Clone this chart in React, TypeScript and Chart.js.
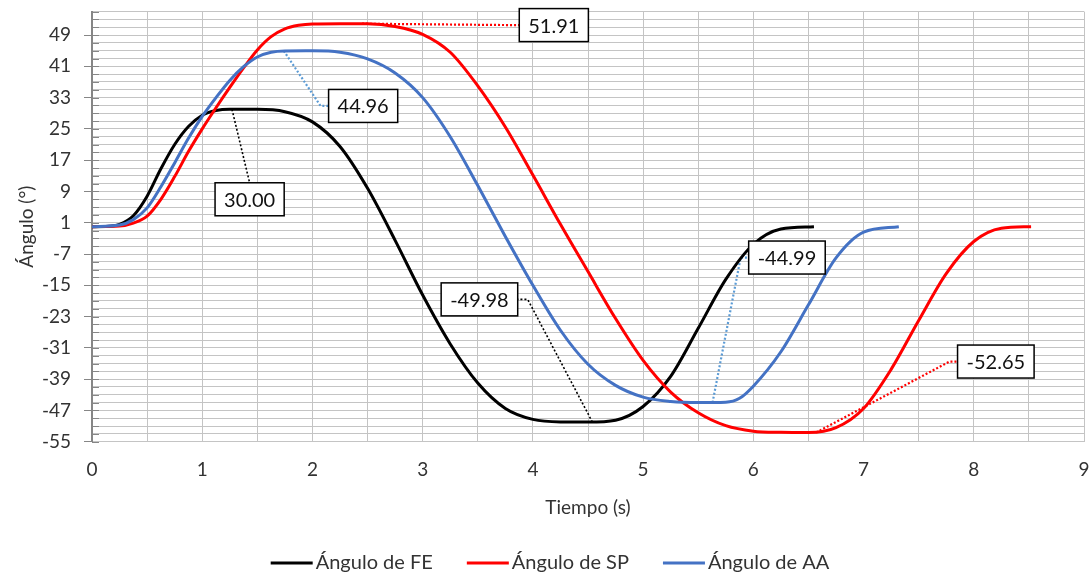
import React, { useEffect, useRef } from "react";
import { Chart, registerables } from "chart.js";

Chart.register(...registerables);

// ---- Data ----
const feTime = [0, 0.125, 0.25, 0.375, 0.5, 0.625, 0.75, 0.875, 1, 1.125, 1.25, 1.5, 1.75, 2, 2.25, 2.5, 2.75, 3, 3.25, 3.5, 3.75, 4, 4.25, 4.5, 4.75, 5, 5.25, 5.5, 5.75, 6, 6.25, 6.55];
const feAngle = [0, 0.05, 0.6, 2.8, 7.8, 14.8, 21, 25.6, 28.5, 29.7, 30, 30, 29.4, 26.8, 20.5, 9.8, -3.5, -17.5, -30, -40, -46.5, -49.3, -49.95, -49.98, -49.5, -46, -38.3, -26, -13.5, -4.5, -0.6, 0];

const spTime = [0, 0.25, 0.375, 0.5, 0.625, 0.75, 0.875, 1, 1.125, 1.25, 1.375, 1.5, 1.625, 1.75, 1.875, 2, 2.25, 2.5, 2.75, 3, 3.25, 3.5, 3.75, 4, 4.25, 4.5, 4.75, 5, 5.25, 5.5, 5.75, 6, 6.25, 6.5, 6.75, 7, 7.25, 7.5, 7.75, 8, 8.25, 8.52];
const spAngle = [0, 0.15, 0.9, 2.7, 7, 12.8, 19.2, 25, 30.4, 35.6, 40.6, 45.2, 48.6, 50.6, 51.5, 51.85, 51.91, 51.9, 51.2, 49.2, 44.6, 36, 25.5, 13.2, 0.6, -11.5, -23.5, -34.2, -42.3, -47.6, -50.9, -52.3, -52.6, -52.65, -51.4, -46.5, -36.5, -24, -12, -3.8, -0.4, 0];

const aaTime = [0, 0.25, 0.375, 0.5, 0.625, 0.75, 0.875, 1, 1.125, 1.25, 1.375, 1.5, 1.625, 1.75, 2, 2.25, 2.5, 2.75, 3, 3.25, 3.5, 3.75, 4, 4.25, 4.5, 4.75, 5, 5.25, 5.5, 5.75, 5.875, 6, 6.25, 6.5, 6.75, 7, 7.32];
const aaAngle = [0, 0.4, 1.8, 4.8, 10.2, 16.3, 22.6, 28.2, 33, 37.4, 40.9, 43.4, 44.6, 44.93, 44.96, 44.6, 42.9, 39.3, 33, 23, 10.5, -2.5, -15, -26.5, -35.2, -40.6, -43.6, -44.7, -44.99, -44.9, -43.9, -40.8, -32, -20, -8, -1.4, 0];

const seriesNames = ["Ángulo de FE", "Ángulo de SP", "Ángulo de AA"];
const seriesColors = ["#000000", "#FF0000", "#4472C4"];
const leaderColors = ["#000000", "#FF0000", "#5B9BD5"];

// callouts (data labels with leader lines)
const calloutSeries = [0, 1, 2, 0, 2, 1];
const calloutTime = [1.27, 2.45, 1.74, 4.54, 5.63, 6.57];
const calloutValue = [30.0, 51.91, 44.96, -49.98, -44.99, -52.65];
const calloutBoxTime = [1.43, 4.19, 2.46, 3.515, 6.305, 8.2];
const calloutBoxValue = [7, 51.55, 30.87, -18.6, -7.9, -34.5];
const calloutSide = ["top", "left", "left", "right", "left", "left"];

// axes
const xMin = 0;
const xMax = 9;
const xGridStep = 0.5;
const xTickLabels = [0, 1, 2, 3, 4, 5, 6, 7, 8, 9];
const yMin = -55;
const yMax = 55;
const yGridStep = 2;
const yTickLabels = [-55, -47, -39, -31, -23, -15, -7, 1, 9, 17, 25, 33, 41, 49];

const FONT = "Lato, 'Open Sans', sans-serif";
const TEXT = "#333333";
const GRID = "#c4c4c4";
const AXIS = "#868686";

function gridValues(min: number, max: number, step: number) {
  const out: { value: number }[] = [];
  for (let v = min; v <= max + 1e-9; v += step) out.push({ value: Math.round(v * 100) / 100 });
  return out;
}

const overlayPlugin = {
  id: "overlay",
  beforeDatasetsDraw(chart: any) {
    const { ctx, scales } = chart;
    const xs = scales.x;
    const ys = scales.y;
    ctx.save();
    ctx.font = `20px ${FONT}`;
    calloutValue.forEach((val, i) => {
      const px = xs.getPixelForValue(calloutTime[i]);
      const py = ys.getPixelForValue(val);
      const cx = xs.getPixelForValue(calloutBoxTime[i]);
      const cy = ys.getPixelForValue(calloutBoxValue[i]);
      const w = ctx.measureText(val.toFixed(2)).width + 18;
      const h = 33;
      ctx.beginPath();
      ctx.strokeStyle = leaderColors[calloutSeries[i]];
      ctx.lineWidth = calloutSeries[i] === 0 ? 1.6 : 2.2;
      ctx.setLineDash([2, 2]);
      ctx.moveTo(px, py);
      const side = calloutSide[i];
      if (side === "left") {
        ctx.lineTo(cx - w / 2 - 8, cy);
        ctx.lineTo(cx - w / 2, cy);
      } else if (side === "right") {
        ctx.lineTo(cx + w / 2 + 10, cy);
        ctx.lineTo(cx + w / 2, cy);
      } else {
        ctx.lineTo(cx, cy - h / 2);
      }
      ctx.stroke();
    });
    ctx.restore();
  },
  afterDatasetsDraw(chart: any) {
    const { ctx, scales } = chart;
    const xs = scales.x;
    const ys = scales.y;
    ctx.save();
    ctx.font = `20px ${FONT}`;
    ctx.textAlign = "center";
    ctx.textBaseline = "middle";
    calloutValue.forEach((val, i) => {
      const cx = xs.getPixelForValue(calloutBoxTime[i]);
      const cy = ys.getPixelForValue(calloutBoxValue[i]);
      const txt = val.toFixed(2);
      const w = ctx.measureText(txt).width + 18;
      const h = 33;
      ctx.setLineDash([]);
      ctx.fillStyle = "#ffffff";
      ctx.fillRect(cx - w / 2, cy - h / 2, w, h);
      ctx.strokeStyle = "#000000";
      ctx.lineWidth = 1.5;
      ctx.strokeRect(cx - w / 2, cy - h / 2, w, h);
      ctx.fillStyle = "#111111";
      ctx.fillText(txt, cx, cy + 1);
    });
    // inward minor tick marks on the y axis
    ctx.strokeStyle = AXIS;
    ctx.lineWidth = 1;
    const left = chart.chartArea.left;
    for (let v = yMin; v <= yMax; v += yGridStep) {
      const y = Math.round(ys.getPixelForValue(v)) + 0.5;
      ctx.beginPath();
      ctx.moveTo(left, y);
      ctx.lineTo(left + 7, y);
      ctx.stroke();
    }
    ctx.restore();
  },
  afterDraw(chart: any) {
    const { ctx } = chart;
    ctx.save();
    ctx.font = `20px ${FONT}`;
    ctx.textBaseline = "middle";
    ctx.textAlign = "left";
    const lineLen = 42;
    const gap = 3;
    const itemGap = 34;
    const widths = seriesNames.map((n) => ctx.measureText(n).width);
    const total = widths.reduce((a, b) => a + b, 0) + seriesNames.length * (lineLen + gap) + itemGap * (seriesNames.length - 1);
    let x = 550 - total / 2;
    const y = 563;
    seriesNames.forEach((name, i) => {
      ctx.beginPath();
      ctx.strokeStyle = seriesColors[i];
      ctx.lineWidth = 3;
      ctx.moveTo(x, y);
      ctx.lineTo(x + lineLen, y);
      ctx.stroke();
      ctx.fillStyle = TEXT;
      ctx.fillText(name, x + lineLen + gap, y);
      x += lineLen + gap + widths[i] + itemGap;
    });
    ctx.restore();
  },
};

export default function App() {
  const ref = useRef<HTMLCanvasElement>(null);
  useEffect(() => {
    document.body.style.margin = "0";
    const canvas = ref.current!;
    const toPoints = (t: number[], a: number[]) => t.map((x, i) => ({ x, y: a[i] }));
    const chart = new Chart(canvas, {
      type: "line",
      data: {
        datasets: [
          { label: seriesNames[0], data: toPoints(feTime, feAngle), order: 2 },
          { label: seriesNames[1], data: toPoints(spTime, spAngle), order: 1 },
          { label: seriesNames[2], data: toPoints(aaTime, aaAngle), order: 0 },
        ].map((d, i) => ({
          ...d,
          borderColor: seriesColors[i],
          backgroundColor: seriesColors[i],
          borderWidth: 3,
          pointRadius: 0,
          fill: false,
          cubicInterpolationMode: "monotone" as const,
        })),
      },
      options: {
        responsive: false,
        animation: false,
        events: [],
        layout: { padding: { left: 0, right: 5, top: 11.6, bottom: 0 } },
        plugins: {
          legend: { display: false },
          tooltip: { enabled: false },
        },
        scales: {
          x: {
            type: "linear",
            min: xMin,
            max: xMax,
            afterBuildTicks: (s: any) => {
              s.ticks = gridValues(xMin, xMax, xGridStep);
            },
            afterFit: (s: any) => {
              s.height = 577 - 441.7;
              s.paddingLeft = 0;
              s.paddingRight = 0;
            },
            ticks: {
              autoSkip: false,
              maxRotation: 0,
              padding: 17,
              color: TEXT,
              font: { family: FONT, size: 19 },
              callback: (v: any) => (xTickLabels.includes(Number(v)) ? String(v) : ""),
            },
            grid: { color: GRID, lineWidth: 1, drawTicks: false },
            border: { color: GRID, width: 1 },
            title: {
              display: true,
              text: "Tiempo (s)",
              color: TEXT,
              font: { family: FONT, size: 19 },
              padding: { top: 0, bottom: 58 },
            },
          },
          y: {
            type: "linear",
            min: yMin,
            max: yMax,
            afterBuildTicks: (s: any) => {
              s.ticks = gridValues(yMin, yMax, yGridStep);
            },
            afterFit: (s: any) => {
              s.width = 92;
              s.paddingTop = 0;
              s.paddingBottom = 0;
            },
            ticks: {
              autoSkip: false,
              padding: 13,
              color: TEXT,
              font: { family: FONT, size: 19 },
              callback: (v: any) => (yTickLabels.includes(Number(v)) ? String(v) : ""),
            },
            grid: {
              color: GRID,
              lineWidth: 1,
              drawTicks: true,
              tickLength: 8,
              tickColor: (c: any) => (yTickLabels.includes(c.tick?.value) ? AXIS : "rgba(0,0,0,0)"),
            },
            border: { color: AXIS, width: 2 },
            title: {
              display: true,
              text: "Ángulo (°)",
              color: TEXT,
              font: { family: FONT, size: 19 },
              padding: { top: 15, bottom: 0 },
            },
          },
        },
      },
      plugins: [overlayPlugin],
    });
    return () => chart.destroy();
  }, []);
  return (
    <div style={{ width: 1089, height: 577 }}>
      <canvas ref={ref} width={1089} height={577} style={{ display: "block" }} />
    </div>
  );
}
